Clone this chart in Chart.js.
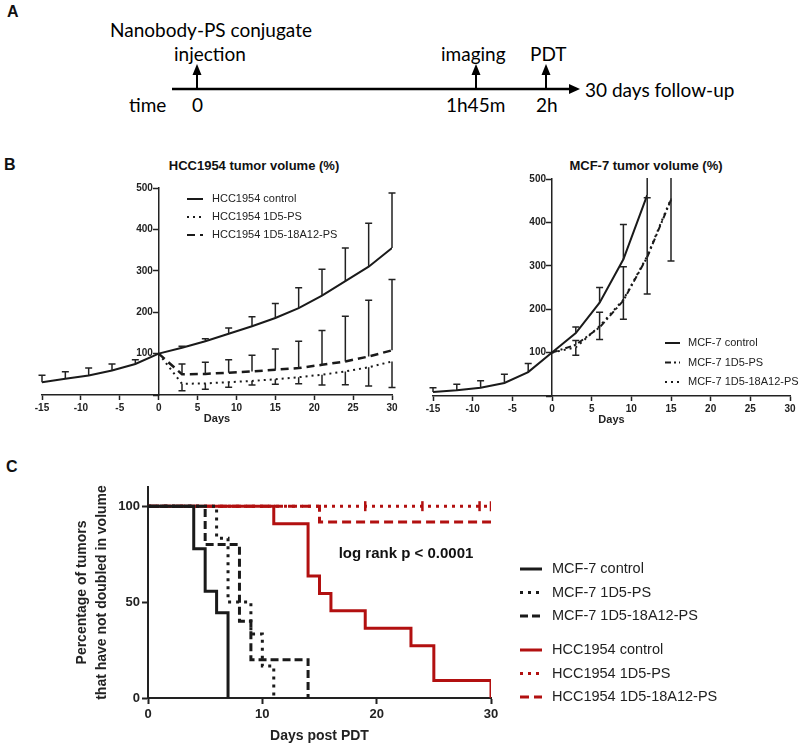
<!DOCTYPE html>
<html>
<head>
<meta charset="utf-8">
<script src="https://cdn.jsdelivr.net/npm/chart.js@4.4.1/dist/chart.umd.min.js"></script>
<style>
  html, body { margin: 0; padding: 0; background: #fff; }
  body { width: 800px; height: 748px; position: relative; overflow: hidden; font-family: 'Liberation Sans', Arial, sans-serif; color: #111; }
  .abs { position: absolute; white-space: nowrap; line-height: 1; }
  .letter { font-weight: bold; font-size: 16px; }
  .a-text { font-family: Lato, 'Open Sans', sans-serif; font-size: 19px; color: #000; }
  .btitle { font-weight: bold; font-size: 13px; transform: translate(-50%, -50%); }
  canvas { position: absolute; }
</style>
</head>
<body>

<!-- Panel letters -->
<div class="abs letter" style="left:7px;top:4px;">A</div>
<div class="abs letter" style="left:4px;top:157px;">B</div>
<div class="abs letter" style="left:6px;top:459px;">C</div>

<!-- Panel A timeline -->
<svg id="timeline" class="abs" style="left:0;top:0" width="800" height="130"></svg>
<div id="timelineText"></div>

<!-- Panel B titles -->
<div class="abs btitle" style="left:254px;top:165px;">HCC1954 tumor volume (%)</div>
<div class="abs btitle" style="left:646px;top:165px;">MCF-7 tumor volume (%)</div>

<canvas id="chartB1" width="400" height="300" style="left:0;top:140px;"></canvas>
<canvas id="chartB2" width="400" height="300" style="left:400px;top:140px;"></canvas>
<canvas id="chartC" width="800" height="278" style="left:0;top:470px;"></canvas>

<div class="abs" style="left:406px;top:552px;transform:translate(-50%,-50%);font-weight:bold;font-size:15px;">log rank p &lt; 0.0001</div>

<script>
// ---------------- DATA ----------------
// Panel A: timeline
const timelineEvents = ['injection', 'imaging', 'PDT'];
const timelineTimes = ['0', '1h45m', '2h'];

// Panel B (left): HCC1954 tumor volume (%)
const daysB = [-15, -12, -9, -6, -3, 0, 3, 6, 9, 12, 15, 18, 21, 24, 27, 30];
const hccControl = [31, 39, 47, 59, 75, 100, 114, 130, 148, 166, 186, 210, 240, 275, 310, 355];
const hccControlErr = [17, 17, 18, 16, 10, null, 4, 6, 14, 23, 35, 49, 64, 80, 105, 133];
const hcc1D5 = [null, null, null, null, null, 100, 27, 28, 31, 34, 38, 43, 49, 57, 67, 81];
const hcc1D5Err = [null, null, null, null, null, null, 17, 14, 12, 10, 12, 16, 25, 32, 45, 63];
const hcc18A12 = [null, null, null, null, null, 100, 50, 51, 54, 57, 61, 65, 73, 81, 93, 108];
const hcc18A12Err = [null, null, null, null, null, null, 25, 28, 31, 39, 50, 65, 83, 109, 136, 171];

// Panel B (right): MCF-7 tumor volume (%)
const daysM = [-15, -12, -9, -6, -3, 0, 3, 6, 9, 12, 15];
const mcfControl = [9, 13, 19, 30, 55, 100, 145, 215, 315, 463, null];
const mcfControlErr = [10, 14, 16, 20, 20, null, 14, 35, 80, 150, null];
const mcf1D5 = [null, null, null, null, null, 100, 118, 158, 220, 320, 452];
const mcf1D5Err = [null, null, null, null, null, null, 10, 35, 78, 137, 150];
const mcf18A12 = [null, null, null, null, null, 100, 112, 161, 222, 322, 455];
const mcf18A12Err = [null, null, null, null, null, null, 18, 31, 45, 87, 144];

// Panel C: Kaplan-Meier (percentage of tumors that have not doubled)
const kmMcfControlDays = [0, 4, 5, 6, 7];
const kmMcfControl = [100, 77.8, 55.6, 44.4, 0];
const kmMcf1D5Days = [0, 6, 7, 9, 10, 11];
const kmMcf1D5 = [100, 83.3, 50, 33.3, 16.7, 0];
const kmMcf18A12Days = [0, 5, 8, 9, 14];
const kmMcf18A12 = [100, 80, 40, 20, 0];
const kmHccControlDays = [0, 11, 14, 15, 16, 19, 23, 25, 30];
const kmHccControl = [100, 90.9, 63.6, 54.5, 45.5, 36.4, 27.3, 9.1, 0];
const kmHcc1D5Days = [0, 30];
const kmHcc1D5 = [100, 100];
const kmHcc1D5CensorDays = [19, 24, 29, 30];
const kmHcc1D5Censor = [100, 100, 100, 100];
const kmHcc18A12Days = [0, 15, 30];
const kmHcc18A12 = [100, 91.7, 91.7];

// ---------------- PANEL A (schematic layout) ----------------
(function () {
  const svg = document.getElementById('timeline');
  const NS = 'http://www.w3.org/2000/svg';
  const lineY = 89, lineX0 = 172, lineX1 = 572;
  const eventX = [197, 476, 546];            // schematic positions of the events
  const eventLabelX = [174, 441, 530];
  const timeLabelX = [192, 446, 536];
  function el(tag, attrs) { const e = document.createElementNS(NS, tag); for (const k in attrs) e.setAttribute(k, attrs[k]); svg.appendChild(e); return e; }
  el('line', { x1: lineX0, y1: lineY, x2: lineX1, y2: lineY, stroke: '#000', 'stroke-width': 2.5 });
  el('polygon', { points: `${lineX1 - 3},${lineY - 5} ${lineX1 + 8},${lineY} ${lineX1 - 3},${lineY + 5}`, fill: '#000' });
  eventX.forEach(x => {
    el('line', { x1: x, y1: lineY, x2: x, y2: lineY - 16, stroke: '#000', 'stroke-width': 2 });
    el('polygon', { points: `${x - 4.5},${lineY - 14} ${x},${lineY - 25} ${x + 4.5},${lineY - 14}`, fill: '#000' });
  });
  const holder = document.getElementById('timelineText');
  function txt(s, left, cy) {
    const d = document.createElement('div');
    d.className = 'abs a-text';
    d.style.left = left + 'px'; d.style.top = cy + 'px'; d.style.transform = 'translateY(-50%)';
    d.textContent = s; holder.appendChild(d);
  }
  txt('Nanobody-PS conjugate', 110, 29);
  timelineEvents.forEach((s, i) => txt(s, eventLabelX[i], 53));
  txt('time', 129, 104);
  timelineTimes.forEach((s, i) => txt(s, timeLabelX[i], 104));
  txt('30 days follow-up', 585, 89);
})();

// ---------------- PLUGINS ----------------
const errorBarPlugin = {
  id: 'errorBars',
  afterDatasetsDraw(chart) {
    const { ctx, chartArea, scales } = chart;
    const xs = scales.x, ys = scales.y;
    ctx.save();
    ctx.beginPath();
    ctx.rect(chartArea.left - 5, chartArea.top - 1, chartArea.right - chartArea.left + 10, chartArea.bottom - chartArea.top + 2);
    ctx.clip();
    chart.data.datasets.forEach(ds => {
      if (!ds.errors) return;
      const sign = ds.errorDir === 'down' ? -1 : 1;
      ctx.strokeStyle = '#222';
      ctx.lineWidth = 1.5;
      ctx.setLineDash([]);
      ds.data.forEach((p, j) => {
        const e = ds.errors[j];
        if (p.y == null || e == null) return;
        const px = xs.getPixelForValue(p.x);
        const y0 = ys.getPixelForValue(p.y);
        const y1 = ys.getPixelForValue(p.y + sign * e);
        ctx.beginPath();
        ctx.moveTo(px, y0); ctx.lineTo(px, y1);
        ctx.moveTo(px - 3.5, y1); ctx.lineTo(px + 3.5, y1);
        ctx.stroke();
      });
    });
    ctx.restore();
  }
};

const lineLegendPlugin = {
  id: 'lineLegend',
  afterDraw(chart, args, opts) {
    if (!opts || !opts.display) return;
    const ctx = chart.ctx;
    ctx.save();
    let y = opts.top, k = 0;
    chart.data.datasets.forEach(ds => {
      if (ds.inLegend === false) return;
      ctx.strokeStyle = ds.borderColor;
      ctx.lineWidth = opts.lineWidth || ds.borderWidth;
      ctx.setLineDash(ds.borderDash || []);
      ctx.beginPath();
      ctx.moveTo(opts.left, y); ctx.lineTo(opts.left + opts.sampleWidth, y);
      ctx.stroke();
      ctx.setLineDash([]);
      ctx.fillStyle = opts.color || '#222';
      ctx.font = opts.font;
      ctx.textBaseline = 'middle';
      ctx.textAlign = 'left';
      ctx.fillText(ds.label, opts.left + opts.sampleWidth + opts.textGap, y);
      y += opts.rowGap;
      if (opts.groupBreakAfter === k) y += opts.groupGap;
      k++;
    });
    ctx.restore();
  }
};

function pts(xs, ys) { return xs.map((x, i) => ({ x, y: ys[i] })); }

const FONT = "'Liberation Sans', Arial, sans-serif";
const INK = '#1a1a1a';
const RED = '#b21010';

function volumeOptions(cfg) {
  const tickFont = { family: FONT, size: 10, weight: 'bold' };
  return {
    responsive: false,
    animation: false,
    devicePixelRatio: 1,
    layout: { padding: cfg.padding },
    plugins: {
      legend: { display: false },
      tooltip: { enabled: false },
      lineLegend: cfg.legend
    },
    scales: {
      x: {
        type: 'linear', min: -15, max: 30,
        ticks: { stepSize: 5, color: '#222', font: tickFont, padding: 2, maxRotation: 0 },
        grid: { display: true, drawOnChartArea: false, drawTicks: true, tickLength: 5, tickWidth: 1.5, tickColor: '#222' },
        border: { display: true, color: '#222', width: 1.5 },
        title: { display: true, text: 'Days', color: '#222', font: { family: FONT, size: 11, weight: 'bold' }, padding: { top: 0, bottom: cfg.titlePad } },
        afterFit: s => { s.height = cfg.xHeight; }
      },
      // the value axis line with its tick marks, crossing at day 0
      y: {
        type: 'linear', axis: 'y', min: 0, max: 500, position: { x: 0 },
        ticks: { stepSize: 100, display: false },
        grid: { display: true, drawOnChartArea: false, drawTicks: true, tickLength: 5, tickWidth: 1.5, tickColor: '#222' },
        border: { display: true, color: '#222', width: 1.5 },
        afterFit: s => { s.width = 0; }
      },
      // same value scale, carrying only the tick labels just left of the tick marks
      yLabels: {
        type: 'linear', axis: 'y', min: 0, max: 500, position: { x: cfg.labelAt },
        ticks: { stepSize: 100, color: '#222', font: tickFont, callback: v => (v === 0 ? '' : v) },
        grid: { display: false },
        border: { display: false },
        afterFit: s => { s.width = 0; }
      }
    }
  };
}

function volDataset(label, xs, ys, errs, dir, dash, width) {
  return {
    label, data: pts(xs, ys), errors: errs, errorDir: dir, yAxisID: 'y', xAxisID: 'x',
    borderColor: INK, borderWidth: width, borderDash: dash,
    pointRadius: 0, fill: false, tension: 0, spanGaps: false
  };
}

// ---------------- PANEL B left ----------------
new Chart(document.getElementById('chartB1'), {
  type: 'line',
  data: {
    datasets: [
      volDataset('HCC1954 control', daysB, hccControl, hccControlErr, 'up', [], 2),
      volDataset('HCC1954 1D5-PS', daysB, hcc1D5, hcc1D5Err, 'down', [2, 4], 2),
      volDataset('HCC1954 1D5-18A12-PS', daysB, hcc18A12, hcc18A12Err, 'up', [8, 5], 2.5)
    ]
  },
  options: volumeOptions({
    padding: { left: 42, right: 8, top: 48, bottom: 0 },
    xHeight: 45, titlePad: 14, labelAt: -0.75,
    legend: { display: true, left: 187, top: 59, rowGap: 18, sampleWidth: 16, textGap: 9, lineWidth: 2, font: `11px ${FONT}`, color: '#222' }
  }),
  plugins: [errorBarPlugin, lineLegendPlugin]
});

// ---------------- PANEL B right ----------------
new Chart(document.getElementById('chartB2'), {
  type: 'line',
  data: {
    datasets: [
      volDataset('MCF-7 control', daysM, mcfControl, mcfControlErr, 'up', [], 2),
      volDataset('MCF-7 1D5-PS', daysM, mcf1D5, mcf1D5Err, 'up', [6, 3, 2, 3], 2),
      volDataset('MCF-7 1D5-18A12-PS', daysM, mcf18A12, mcf18A12Err, 'down', [2, 4], 2)
    ]
  },
  options: volumeOptions({
    padding: { left: 33, right: 10, top: 39, bottom: 0 },
    xHeight: 44, titlePad: 13, labelAt: -0.75,
    legend: { display: true, left: 265, top: 203, rowGap: 19.5, sampleWidth: 15, textGap: 8, lineWidth: 2, font: `11px ${FONT}`, color: '#222' }
  }),
  plugins: [errorBarPlugin, lineLegendPlugin]
});

// ---------------- PANEL C ----------------
function kmDataset(label, xs, ys, color, dash, width) {
  return {
    label, data: pts(xs, ys), borderColor: color, borderWidth: width, borderDash: dash,
    stepped: 'before', pointRadius: 0, fill: false, tension: 0
  };
}

new Chart(document.getElementById('chartC'), {
  type: 'line',
  data: {
    datasets: [
      kmDataset('MCF-7 control', kmMcfControlDays, kmMcfControl, INK, [], 3),
      kmDataset('MCF-7 1D5-PS', kmMcf1D5Days, kmMcf1D5, INK, [3, 5], 3),
      kmDataset('MCF-7 1D5-18A12-PS', kmMcf18A12Days, kmMcf18A12, INK, [8, 4], 3),
      kmDataset('HCC1954 control', kmHccControlDays, kmHccControl, RED, [], 3),
      kmDataset('HCC1954 1D5-PS', kmHcc1D5Days, kmHcc1D5, RED, [3, 5], 3),
      kmDataset('HCC1954 1D5-18A12-PS', kmHcc18A12Days, kmHcc18A12, RED, [9, 5], 3),
      {
        label: 'HCC1954 1D5-PS censored', inLegend: false, type: 'scatter',
        data: pts(kmHcc1D5CensorDays, kmHcc1D5Censor),
        showLine: false, pointStyle: 'line', rotation: 90, pointRadius: 5,
        pointBorderWidth: 2.5, borderColor: RED, backgroundColor: RED
      }
    ]
  },
  options: {
    responsive: false,
    animation: false,
    devicePixelRatio: 1,
    layout: { padding: { left: 72, right: 309, top: 17, bottom: 0 } },
    plugins: {
      legend: { display: false },
      tooltip: { enabled: false },
      lineLegend: { display: true, left: 520, top: 99, rowGap: 23.5, groupBreakAfter: 2, groupGap: 10.5, sampleWidth: 22, textGap: 10, lineWidth: 3, font: `14.5px ${FONT}`, color: '#222' }
    },
    scales: {
      x: {
        type: 'linear', min: 0, max: 30,
        ticks: { stepSize: 10, color: '#222', font: { family: FONT, size: 13, weight: 'bold' }, padding: 3, maxRotation: 0 },
        grid: { display: true, drawOnChartArea: false, drawTicks: true, tickLength: 6, tickWidth: 2, tickColor: '#222' },
        border: { display: true, color: '#222', width: 2 },
        title: { display: true, text: 'Days post PDT', color: '#222', font: { family: FONT, size: 14, weight: 'bold' }, padding: { top: 0, bottom: 3 } },
        afterFit: s => { s.height = 50; }
      },
      y: {
        type: 'linear', min: 0, max: 110,
        ticks: { stepSize: 50, includeBounds: false, color: '#222', font: { family: FONT, size: 13, weight: 'bold' }, padding: 2 },
        grid: { display: true, drawOnChartArea: false, drawTicks: true, tickLength: 6, tickWidth: 2, tickColor: '#222' },
        border: { display: true, color: '#222', width: 2 },
        title: { display: true, text: ['Percentage of tumors', 'that have not doubled in volume'], color: '#222',
          font: { family: FONT, size: 14, weight: 'bold', lineHeight: 1.45 }, padding: { top: 0, bottom: 0 } },
        afterFit: s => { s.width = 76; }
      }
    }
  },
  plugins: [lineLegendPlugin]
});
</script>
</body>
</html>
